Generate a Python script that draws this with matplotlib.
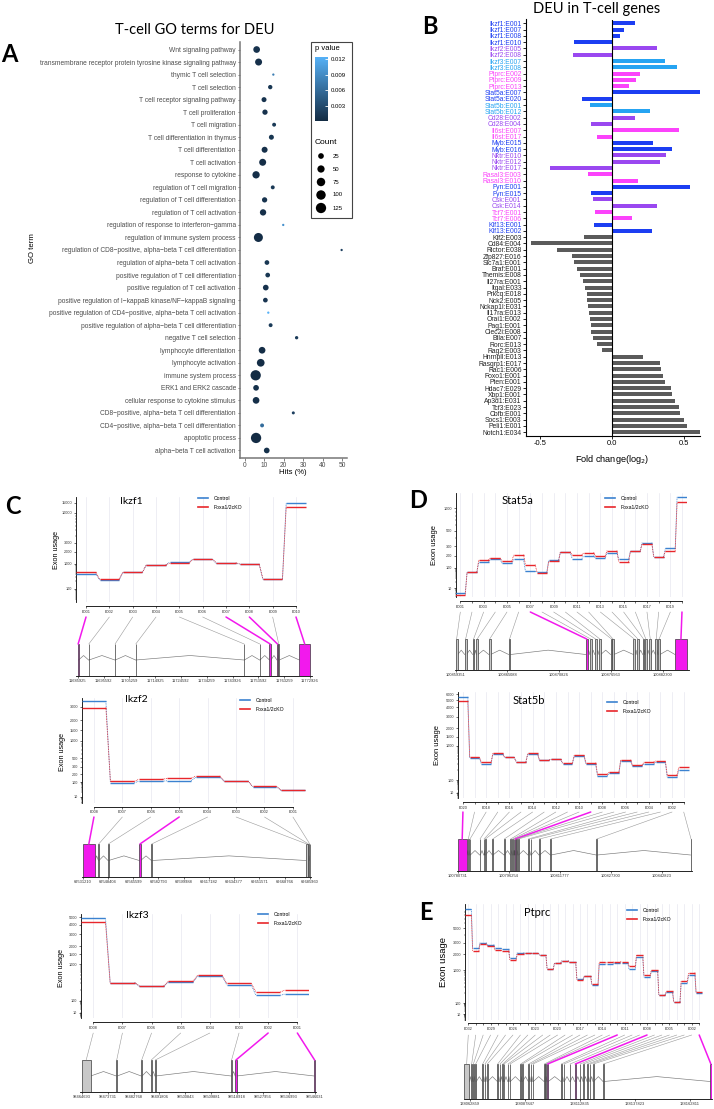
import numpy as np
import matplotlib
matplotlib.use("Agg")
import matplotlib.pyplot as plt
from matplotlib.patches import Rectangle, ConnectionPatch
from matplotlib.colors import LinearSegmentedColormap, Normalize
from matplotlib.lines import Line2D

plt.rcParams['font.family'] = ['Liberation Sans', 'DejaVu Sans']

#--- Panel A: GO terms (top to bottom)
go_terms = [
    "Wnt signaling pathway",
    "transmembrane receptor protein tyrosine kinase signaling pathway",
    "thymic T cell selection",
    "T cell selection",
    "T cell receptor signaling pathway",
    "T cell proliferation",
    "T cell migration",
    "T cell differentiation in thymus",
    "T cell differentiation",
    "T cell activation",
    "response to cytokine",
    "regulation of T cell migration",
    "regulation of T cell differentiation",
    "regulation of T cell activation",
    "regulation of response to interferon\u2212gamma",
    "regulation of immune system process",
    "regulation of CD8\u2212positive, alpha\u2212beta T cell differentiation",
    "regulation of alpha\u2212beta T cell activation",
    "positive regulation of T cell differentiation",
    "positive regulation of T cell activation",
    "positive regulation of I\u2212kappaB kinase/NF\u2212kappaB signaling",
    "positive regulation of CD4\u2212positive, alpha\u2212beta T cell activation",
    "positive regulation of alpha\u2212beta T cell differentiation",
    "negative T cell selection",
    "lymphocyte differentiation",
    "lymphocyte activation",
    "immune system process",
    "ERK1 and ERK2 cascade",
    "cellular response to cytokine stimulus",
    "CD8\u2212positive, alpha\u2212beta T cell differentiation",
    "CD4\u2212positive, alpha\u2212beta T cell differentiation",
    "apoptotic process",
    "alpha\u2212beta T cell activation",
]
go_hits = [6.0, 7.0, 14.6, 13.0, 9.8, 10.3, 15.0, 13.6, 10.1, 9.1, 5.7, 14.3, 10.1, 9.3,
           19.7, 6.9, 49.8, 11.3, 11.7, 10.7, 10.5, 12.0, 13.2, 26.6, 8.8, 8.1, 5.5, 5.7,
           5.7, 24.9, 8.8, 5.7, 11.2]
go_count = [40, 45, 3, 11, 17, 20, 8, 17, 29, 45, 51, 8, 20, 34, 3, 89, 3, 14, 14, 25,
            14, 3, 8, 5, 40, 59, 125, 25, 40, 4, 8, 125, 25]
go_pval = [0.0008, 0.0006, 0.0078, 0.0012, 0.0009, 0.0008, 0.0015, 0.0011, 0.0006, 0.0004,
           0.0005, 0.0014, 0.0009, 0.0006, 0.0095, 0.0003, 0.0020, 0.0012, 0.0012, 0.0008,
           0.0010, 0.0124, 0.0016, 0.0016, 0.0004, 0.0003, 0.0001, 0.0007, 0.0005, 0.0020,
           0.0062, 0.0002, 0.0007]
count_breaks = [25, 50, 75, 100, 125]
pval_ticks = [0.003, 0.006, 0.009, 0.012]
hits_ticks = [0, 10, 20, 30, 40, 50]

#--- Panel B: exon fold changes
deu_labels = ['Ikzf1:E001', 'Ikzf1:E007', 'Ikzf1:E008', 'Ikzf1:E010', 'Ikzf2:E005', 'Ikzf2:E008',
              'Ikzf3:E007', 'Ikzf3:E008', 'Ptprc:E002', 'Ptprc:E009', 'Ptprc:E013', 'Stat5a:E007',
              'Stat5a:E020', 'Stat5b:E001', 'Stat5b:E012', 'Cd28:E002', 'Cd28:E004', 'Il6st:E007',
              'Il6st:E017', 'Myb:E015', 'Myb:E016', 'Nktr:E010', 'Nktr:E012', 'Nktr:E017',
              'Rasal3:E003', 'Rasal3:E010', 'Fyn:E001', 'Fyn:E015', 'Csk:E001', 'Csk:E014',
              'Tcf7:E001', 'Tcf7:E006', 'Klf13:E001', 'Klf13:E002', 'Klf2:E003', 'Cd84:E004',
              'Rictor:E038', 'Zfp827:E016', 'Slc7a1:E001', 'Braf:E001', 'Themis:E008',
              'Il27ra:E001', 'Itgal:E033', 'Prkcq:E018', 'Nck2:E005', 'Nckap1l:E031',
              'Il17ra:E013', 'Orai1:E002', 'Pag1:E001', 'Clec2i:E008', 'Btla:E007', 'Rorc:E013',
              'Rag2:E003', 'Hnrnpll:E013', 'Rasgrp1:E017', 'Rac1:E006', 'Foxo1:E001', 'Pten:E001',
              'Hdac7:E029', 'Xbp1:E001', 'Ap3d1:E031', 'Tcf3:E023', 'Cbfb:E001', 'Socs1:E003',
              'Peli1:E001', 'Notch1:E034']
deu_fc = [0.16, 0.081, 0.056, -0.266, 0.31, -0.271, 0.366, 0.451, 0.19, 0.164, 0.116, 0.606,
          -0.208, -0.155, 0.259, 0.157, -0.148, 0.465, -0.106, 0.282, 0.414, 0.37, 0.333, -0.431,
          -0.169, 0.181, 0.537, -0.148, -0.137, 0.313, -0.12, 0.134, -0.13, 0.273,
          -0.194, -0.565, -0.384, -0.278, -0.264, -0.243, -0.227, -0.206, -0.19, -0.176, -0.174,
          -0.167, -0.16, -0.155, -0.148, -0.146, -0.132, -0.106, -0.069, 0.215, 0.331, 0.336,
          0.352, 0.363, 0.405, 0.414, 0.435, 0.461, 0.468, 0.5, 0.516, 0.606]
fc_ticks = [-0.5, 0.0, 0.5]
fc_ticklabels = ['-0.5', '0.0', '0.5']
gene_blue = ['Ikzf1', 'Stat5a', 'Myb', 'Fyn', 'Klf13']
gene_purple = ['Ikzf2', 'Cd28', 'Nktr', 'Csk']
gene_light = ['Ikzf3', 'Stat5b']
gene_pink = ['Ptprc', 'Il6st', 'Rasal3', 'Tcf7']

#--- Panels C-E: exon usage
ikzf1_exons = ['E001', 'E002', 'E003', 'E004', 'E005', 'E006', 'E007', 'E008', 'E009', 'E010']
ikzf1_ctrl = [409, 229, 466, 912, 1102, 1312, 1040, 990, 244, 15000]
ikzf1_ko = [466, 250, 466, 937, 1040, 1312, 1075, 1010, 258, 12900]
ikzf1_start = [11685925, 11690000, 11699850, 11707600, 11748200, 11754050, 11757750, 11760550,
               11761050, 11768950]
ikzf1_end = [11686250, 11690150, 11700000, 11707750, 11748350, 11754200, 11758300, 11760950,
             11761400, 11772950]
ikzf1_sig = ['E001', 'E007', 'E008', 'E010']
ikzf1_gticks = [11685925, 11695592, 11705259, 11714925, 11724592, 11734259, 11743926, 11753592,
                11763259, 11772926]

ikzf2_exons = ['E008', 'E007', 'E006', 'E005', 'E004', 'E003', 'E002', 'E001']
ikzf2_ctrl = [3600, 90, 106, 112, 150, 108, 48.6, 28]
ikzf2_ko = [2950, 105, 127, 138, 168, 108, 52, 28]
ikzf2_start = [69531210, 69541900, 69548450, 69569700, 69577950, 69683100, 69684800, 69685650]
ikzf2_end = [69539570, 69542300, 69548850, 69570700, 69578350, 69684400, 69685150, 69685960]
ikzf2_sig = ['E008', 'E005']
ikzf2_gticks = [69531210, 69548404, 69565599, 69582793, 69599988, 69617182, 69634377, 69651571,
                69668766, 69685960]

ikzf3_exons = ['E008', 'E007', 'E006', 'E005', 'E004', 'E003', 'E002', 'E001']
ikzf3_ctrl = [4900, 312, 250, 320, 480, 270, 141, 153]
ikzf3_ko = [4300, 312, 258, 341, 499, 300, 173, 197]
ikzf3_start = [98464693, 98476750, 98485450, 98488800, 98490200, 98516800, 98518200, 98545750]
ikzf3_end = [98467830, 98477050, 98485750, 98489100, 98490500, 98517100, 98518750, 98546031]
ikzf3_sig = ['E002', 'E001']
ikzf3_gticks = [98464693, 98473731, 98482768, 98491806, 98500843, 98509881, 98518918, 98527956,
                98536993, 98546031]

stat5a_exons = ['E001', 'E002', 'E003', 'E004', 'E005', 'E006', 'E007', 'E008', 'E009', 'E010',
                'E011', 'E012', 'E013', 'E014', 'E015', 'E016', 'E017', 'E018', 'E019', 'E020']
stat5a_ctrl = [5.5, 61, 139, 162, 129, 162, 66, 63, 156, 230, 170, 200, 175, 228, 162, 240, 336,
               185, 272, 1428]
stat5a_ko = [4.4, 61, 156, 175, 145, 208, 119, 57, 145, 236, 205, 228, 197, 247, 139, 240, 321,
             185, 247, 1200]
stat5a_start = [100859351, 100860370, 100861250, 100861650, 100863040, 100865240, 100873780,
                100874220, 100874770, 100875240, 100876530, 100876700, 100879050, 100879450,
                100880080, 100880330, 100880820, 100881480, 100881800, 100883660]
stat5a_end = [100859600, 100860570, 100861450, 100861850, 100863240, 100865440, 100873980,
              100874420, 100874970, 100875440, 100876730, 100876900, 100879250, 100879650,
              100880280, 100880530, 100881020, 100881680, 100882000, 100884980]
stat5a_sig = ['E007', 'E020']
stat5a_gticks = [100859351, 100865088, 100870826, 100876563, 100882300]

stat5b_exons = ['E020', 'E019', 'E018', 'E017', 'E016', 'E015', 'E014', 'E013', 'E012', 'E011',
                'E010', 'E009', 'E008', 'E007', 'E006', 'E005', 'E004', 'E003', 'E002', 'E001']
stat5b_ctrl = [5500, 450, 300, 580, 460, 344, 570, 386, 400, 296, 495, 296, 133, 159, 370, 258,
               302, 332, 122, 198]
stat5b_ko = [4850, 470, 330, 610, 460, 344, 600, 386, 404, 322, 530, 322, 149, 170, 390, 277,
             338, 363, 142, 237]
stat5b_start = [100780731, 100783850, 100784370, 100787420, 100788640, 100789040, 100791280,
                100794820, 100796760, 100797370, 100797770, 100798120, 100798590, 100799080,
                100802120, 100802940, 100805470, 100808940, 100822900, 100851600]
stat5b_end = [100783470, 100784060, 100784580, 100787620, 100788840, 100789240, 100791480,
              100795020, 100796960, 100797570, 100797970, 100798420, 100798790, 100799280,
              100802320, 100803140, 100805670, 100809140, 100823200, 100851900]
stat5b_sig = ['E020', 'E009']
stat5b_gticks = [100780731, 100796254, 100811777, 100827300, 100842823]

ptprc_exons = [f"E{i:03d}" for i in range(32, 0, -1)]
ptprc_ctrl = [9800, 2450, 3000, 2800, 2450, 2400, 1660, 2100, 2050, 2050, 1900, 1070, 1380, 1500,
              1420, 540, 670, 360, 1300, 1300, 1380, 1350, 1040, 1750, 610, 980, 172, 215, 106,
              420, 720, 200]
ptprc_ko = [8000, 2250, 2900, 2650, 2300, 2250, 1550, 2000, 2050, 2050, 1900, 1070, 1380, 1500,
            1420, 510, 670, 380, 1400, 1400, 1450, 1420, 1200, 1900, 700, 1000, 178, 225, 108,
            480, 850, 210]
ptprc_start = [138060133, 138063467, 138064223, 138065133, 138068464, 138069524, 138070584,
               138075278, 138076338, 138077550, 138078155, 138079972, 138080881, 138085727,
               138086484, 138089361, 138090421, 138091330, 138096480, 138097086, 138097843,
               138104202, 138105413, 138108139, 138110413, 138112682, 138114197, 138116014,
               138117225, 138118740, 138123284, 138171946]
ptprc_end = [138062556, 138063767, 138064523, 138065733, 138068764, 138069824, 138070884,
             138075578, 138076638, 138077850, 138078455, 138080272, 138081181, 138086027,
             138086784, 138089661, 138090721, 138091630, 138096780, 138097386, 138098443,
             138104502, 138105713, 138108439, 138111013, 138112982, 138114497, 138116314,
             138117525, 138119040, 138123584, 138172646]
ptprc_sig = ['E012', 'E008', 'E001']
ptprc_gticks = [138062859, 138087847, 138112835, 138137823, 138162811]

W, H = 714, 1109
BLUE, RED = '#3b82d0', '#e8262b'
SIG = '#F219ED'

fig = plt.figure(figsize=(W / 100, H / 100), dpi=100)


def box(x0, y0, x1, y1):
    #--- pixel box (origin top-left) to figure fraction
    return [x0 / W, 1 - y1 / H, (x1 - x0) / W, (y1 - y0) / H]


def ftext(x, y, s, **kw):
    return fig.text(x / W, 1 - y / H, s, **kw)


def dot_area(c):
    d_px = 2.3 + 8.46 * np.sqrt(np.clip((np.asarray(c, float) - 3) / 137, 0, None))
    return (d_px * 0.72) ** 2


def px_scale(vals, pix):
    #--- y scale following the tick spacing of the original axis
    lv = np.log10(np.asarray(vals, float))
    p = -np.asarray(pix, float)
    k0 = (p[1] - p[0]) / (lv[1] - lv[0])
    k1 = (p[-1] - p[-2]) / (lv[-1] - lv[-2])

    def fwd(v):
        v = np.log10(np.clip(np.asarray(v, float), 1e-6, None))
        out = np.interp(v, lv, p)
        out = np.where(v < lv[0], p[0] + (v - lv[0]) * k0, out)
        return np.where(v > lv[-1], p[-1] + (v - lv[-1]) * k1, out)

    def inv(q):
        q = np.asarray(q, float)
        out = np.interp(q, p, lv)
        out = np.where(q < p[0], lv[0] + (q - p[0]) / k0, out)
        out = np.where(q > p[-1], lv[-1] + (q - p[-1]) / k1, out)
        return 10 ** out
    return fwd, inv


#--- Panel A
cmap = LinearSegmentedColormap.from_list('gg', ['#132B43', '#56B1F7'])
norm = Normalize(min(go_pval), max(go_pval))
axa = fig.add_axes(box(240, 42, 347, 458))
rows = np.arange(len(go_terms))
sc = axa.scatter(go_hits, rows, s=dot_area(go_count), c=go_pval, cmap=cmap, norm=norm,
                 linewidths=0, zorder=3)
axa.set_ylim(len(go_terms) - 0.4, -0.6)
axa.set_xlim(-2.58, 52.57)
axa.set_yticks(rows)
axa.set_yticklabels(go_terms, fontsize=4.8, color='#4D4D4D')
axa.set_xticks(hits_ticks)
axa.set_xticklabels([str(t) for t in hits_ticks], fontsize=4.8, color='#4D4D4D')
axa.tick_params(length=1.8, width=0.5, color='#4D4D4D', pad=1.2)
for s in ['top', 'right']:
    axa.spines[s].set_visible(False)
for s in ['left', 'bottom']:
    axa.spines[s].set_color('#777777')
    axa.spines[s].set_linewidth(1.1)
ftext(293, 473, 'Hits (%)', ha='center', va='center', fontsize=5.6)
ftext(32, 248, 'GO term', ha='center', va='center', rotation=90, fontsize=5.6)
ftext(195, 30, 'T-cell GO terms for DEU', ha='center', va='center', fontsize=10.5, family='Lato')
ftext(9, 54, 'A', ha='center', va='center', fontsize=17, weight='bold', family='Lato')

#--- Panel A legend
fig.add_artist(Rectangle((311 / W, 1 - 218 / H), 41 / W, 176 / H, transform=fig.transFigure,
                         fill=False, ec='#444444', lw=0.8))
ftext(315, 49, 'p value', ha='left', va='center', fontsize=5.5)
cax = fig.add_axes(box(315, 57, 328, 121))
cb = fig.colorbar(sc, cax=cax, ticks=pval_ticks)
cb.set_ticklabels([f'{t:.3f}' for t in pval_ticks])
cb.outline.set_visible(False)
cax.tick_params(direction='in', color='white', length=2.5, width=0.6, labelsize=4.3, pad=2)
ftext(315, 142, 'Count', ha='left', va='center', fontsize=6)
lax = fig.add_axes(box(313, 149.5, 352, 214.5))
lax.scatter([8] * len(count_breaks), range(len(count_breaks)), s=dot_area(count_breaks),
            color='black', linewidths=0)
for i, c in enumerate(count_breaks):
    lax.text(20, i, str(c), ha='left', va='center', fontsize=4.3)
lax.set_xlim(0, 39)
lax.set_ylim(len(count_breaks) - 0.5, -0.5)
lax.axis('off')

#--- Panel B
def gene_color(label):
    g = label.split(':')[0]
    if g in gene_blue:
        return '#1c3ef2'
    if g in gene_purple:
        return '#9a48f0'
    if g in gene_light:
        return '#26a4f2'
    if g in gene_pink:
        return '#fb43fb'
    return None

axb = fig.add_axes(box(525.7, 19.5, 700, 436))
yb = np.arange(len(deu_labels))
bar_cols = [gene_color(l) or '#5b5b5b' for l in deu_labels]
axb.barh(yb, deu_fc, height=0.64, color=bar_cols)
axb.axvline(0, color='black', lw=0.8)
axb.set_ylim(len(deu_labels) - 0.4, -0.6)
axb.set_xlim(-0.601, 0.608)
axb.set_yticks(yb)
axb.set_yticklabels(deu_labels, fontsize=4.9)
for t, l in zip(axb.get_yticklabels(), deu_labels):
    t.set_color(gene_color(l) or '#222222')
axb.set_xticks(fc_ticks)
axb.set_xticklabels(fc_ticklabels, fontsize=5.4)
axb.tick_params(length=2, width=0.6, pad=1)
for s in ['top', 'right']:
    axb.spines[s].set_visible(False)
for s in ['left', 'bottom']:
    axb.spines[s].set_linewidth(0.8)
ftext(612, 460, 'Fold change(log$_2$)', ha='center', va='center', fontsize=6.6)
ftext(597, 9, 'DEU in T-cell genes', ha='center', va='center', fontsize=10.5, family='Lato')
ftext(430, 26, 'B', ha='center', va='center', fontsize=17, weight='bold', family='Lato')


#--- Panels C-E
def exon_panel(P, gene, names, ctrl, ko, starts, ends, sig, gticks):
    ax = fig.add_axes(box(P['x0'], P['y0'], P['x1'], P['y1']))
    n = len(names)
    idx = np.arange(n)
    #--- spine placement first: moving a spine resets its ticks
    for s in ['top', 'right']:
        ax.spines[s].set_visible(False)
    ax.spines['bottom'].set_position(('outward', P['off'] * 0.72))
    ax.spines['bottom'].set_bounds(0, n - 1)
    ax.spines['bottom'].set_linewidth(0.6)
    ax.spines['left'].set_linewidth(0.6)

    fwd, inv = px_scale(P['yv'], P['yp'])
    ax.set_yscale('function', functions=(fwd, inv))
    ax.set_ylim(float(inv(-P['y1'])), float(inv(-P['y0'])))
    ax.set_xlim(P['xl'])
    hw = 0.42
    for vals, col in ((ctrl, BLUE), (ko, RED)):
        ax.hlines(vals, idx - hw, idx + hw, color=col, lw=1.0, zorder=3)
        xs, ys = [], []
        for i in range(n - 1):
            xs += [i + hw, i + 1 - hw, np.nan]
            ys += [vals[i], vals[i + 1], np.nan]
        ax.plot(xs, ys, color=col, lw=0.6, ls=(0, (1, 1)), zorder=3)
    ax.set_xticks(idx)
    ax.set_xticklabels([nm if i % P['step'] == 0 else '' for i, nm in enumerate(names)])
    ax.grid(axis='x', color='#e8e8f0', lw=0.5)
    ax.set_yticks(P['yv'])
    ax.set_yticklabels([f'{v:g}' for v in P['yv']])
    minor = [m * 10 ** e for e in range(0, 5) for m in range(2, 10)]
    lo, hi = ax.get_ylim()
    ax.set_yticks([m for m in minor if lo < m < hi and m not in P['yv']], minor=True)
    ax.tick_params(axis='y', which='minor', length=0.8, width=0.3)
    ax.tick_params(which='major', length=1.5, width=0.4, pad=1.2, labelsize=2.7,
                   labelcolor='#333333')

    #--- gene model
    gx = fig.add_axes(box(P['gx0'], P['gy0'], P['gx1'], P['gy1']))
    for s in ['top', 'right', 'left']:
        gx.spines[s].set_visible(False)
    gx.spines['bottom'].set_linewidth(0.6)
    p0, p1 = P['gp']
    bpp = (gticks[-1] - gticks[0]) / (p1 - p0)
    gx.set_xlim(gticks[0] + (P['gx0'] - p0) * bpp, gticks[0] + (P['gx1'] - p0) * bpp)
    gx.set_ylim(0, 1)
    order = np.argsort(starts)
    for a, b in zip(order[:-1], order[1:]):
        mid = (ends[a] + starts[b]) / 2
        gx.plot([ends[a], mid, starts[b]], [0.5, 0.64, 0.5], color='#777777', lw=0.45)
    for i in range(n):
        hl = names[i] in sig
        gx.add_patch(Rectangle((starts[i], 0), ends[i] - starts[i], 1,
                               fc=SIG if hl else '#c8c8c8', ec='#3a3a3a', lw=0.5, zorder=3))
    gx.set_xticks(gticks)
    gx.set_xticklabels([str(t) for t in gticks])
    gx.tick_params(axis='x', length=1.2, width=0.4, pad=0.8, labelsize=2.9,
                   labelcolor='#333333')
    gx.set_yticks([])

    #--- lines from exon ticks to the gene model
    yfrac = (P['y1'] - P['ct']) / (P['y1'] - P['y0'])
    for i in range(n):
        hl = names[i] in sig
        con = ConnectionPatch(xyA=(i, yfrac), coordsA=ax.get_xaxis_transform(),
                              xyB=((starts[i] + ends[i]) / 2, 1), coordsB=gx.transData,
                              color=SIG if hl else '#9a9a9a', lw=1.1 if hl else 0.4, zorder=4)
        fig.add_artist(con)

    ftext(*P['title'], gene, ha='center', va='center', fontsize=P['tfs'], family='Lato')
    ftext(*P['ylab'], 'Exon usage', ha='center', va='center', rotation=90, fontsize=P['yfs'])
    handles = [Line2D([], [], color=BLUE, lw=1.2), Line2D([], [], color=RED, lw=1.2)]
    fig.legend(handles, ['Control', 'Foxa1/2cKO'], loc='upper left',
               bbox_to_anchor=(P['leg'][0] / W, 1 - P['leg'][1] / H), frameon=False,
               fontsize=3.7, handlelength=2.0, handletextpad=1.0, labelspacing=0.75,
               borderpad=0, borderaxespad=0)


L_ikzf1 = dict(x0=76, x1=310, y0=497, y1=602, xl=(-0.43, 9.6), off=4,
               yv=[100, 1000, 2000, 3000, 10000, 15000], yp=[589, 564, 552, 543, 513, 503],
               gx0=76, gx1=312, gy0=644, gy1=676, gp=(77.7, 310), ct=617,
               title=(131, 502), tfs=7.5, leg=(198, 496), ylab=(56, 550), yfs=5.2, step=1)
L_ikzf2 = dict(x0=82, x1=306, y0=698, y1=803, xl=(-0.42, 7.46), off=3.7,
               yv=[10, 100, 200, 300, 500, 1000, 1500, 2000, 3000],
               yp=[797, 782, 774, 767, 758, 741, 730, 720, 707],
               gx0=82, gx1=311, gy0=844, gy1=877, gp=(82.7, 310), ct=817,
               title=(136, 700), tfs=7.5, leg=(240, 698), ylab=(62, 752), yfs=5.2, step=1)
L_ikzf3 = dict(x0=81, x1=309, y0=914, y1=1018, xl=(-0.42, 7.4), off=4.4,
               yv=[10, 100, 1000, 1500, 2000, 3000, 4000, 5000],
               yp=[1012.7, 1000.7, 964.3, 954.3, 946.3, 934, 924.7, 917.3],
               gx0=80, gx1=316, gy0=1060, gy1=1092, gp=(81.7, 315), ct=1033,
               title=(137.5, 915), tfs=7.5, leg=(258, 912), ylab=(61.7, 968), yfs=5.2, step=1)
L_stat5a = dict(x0=456, x1=687, y0=493, y1=597, xl=(-0.37, 19.43), off=4,
                yv=[10, 100, 200, 300, 500, 1000], yp=[588, 567.7, 555.7, 546, 531, 508.3],
                gx0=455, gx1=689, gy0=639, gy1=670, gp=(455.5, 662.7), ct=612,
                title=(517.5, 501), tfs=8, leg=(605, 496), ylab=(435, 545), yfs=5.4, step=2)
L_stat5b = dict(x0=457.7, x1=690, y0=692, y1=798, xl=(-0.45, 19.54), off=4,
                yv=[10, 100, 1000, 1500, 2000, 3000, 4000, 5000, 6000],
                yp=[792.7, 780.3, 745.7, 736.7, 728.3, 716.7, 707.3, 700, 694],
                gx0=457, gx1=692, gy0=839, gy1=871, gp=(457.7, 661.7), ct=812,
                title=(529, 700), tfs=8, leg=(607, 700), ylab=(437, 745), yfs=5.4, step=2)
L_ptprc = dict(x0=465, x1=708, y0=904, y1=1020, xl=(-0.44, 32.18), off=3.3,
               yv=[10, 100, 1000, 2000, 3000, 5000], yp=[1014, 1003, 970.3, 954, 942.7, 928.3],
               gx0=464, gx1=712, gy0=1064, gy1=1099, gp=(470, 690), ct=1035,
               title=(537.5, 913), tfs=8, leg=(627, 908), ylab=(443, 962), yfs=6.8, step=3)

exon_panel(L_ikzf1, 'Ikzf1', ikzf1_exons, ikzf1_ctrl, ikzf1_ko, ikzf1_start, ikzf1_end,
           ikzf1_sig, ikzf1_gticks)
exon_panel(L_ikzf2, 'Ikzf2', ikzf2_exons, ikzf2_ctrl, ikzf2_ko, ikzf2_start, ikzf2_end,
           ikzf2_sig, ikzf2_gticks)
exon_panel(L_ikzf3, 'Ikzf3', ikzf3_exons, ikzf3_ctrl, ikzf3_ko, ikzf3_start, ikzf3_end,
           ikzf3_sig, ikzf3_gticks)
exon_panel(L_stat5a, 'Stat5a', stat5a_exons, stat5a_ctrl, stat5a_ko, stat5a_start, stat5a_end,
           stat5a_sig, stat5a_gticks)
exon_panel(L_stat5b, 'Stat5b', stat5b_exons, stat5b_ctrl, stat5b_ko, stat5b_start, stat5b_end,
           stat5b_sig, stat5b_gticks)
exon_panel(L_ptprc, 'Ptprc', ptprc_exons, ptprc_ctrl, ptprc_ko, ptprc_start, ptprc_end,
           ptprc_sig, ptprc_gticks)

ftext(13, 507, 'C', ha='center', va='center', fontsize=17, weight='bold', family='Lato')
ftext(418, 500, 'D', ha='center', va='center', fontsize=17, weight='bold', family='Lato')
ftext(426, 912, 'E', ha='center', va='center', fontsize=17, weight='bold', family='Lato')

fig.savefig('out.png', dpi=100)
